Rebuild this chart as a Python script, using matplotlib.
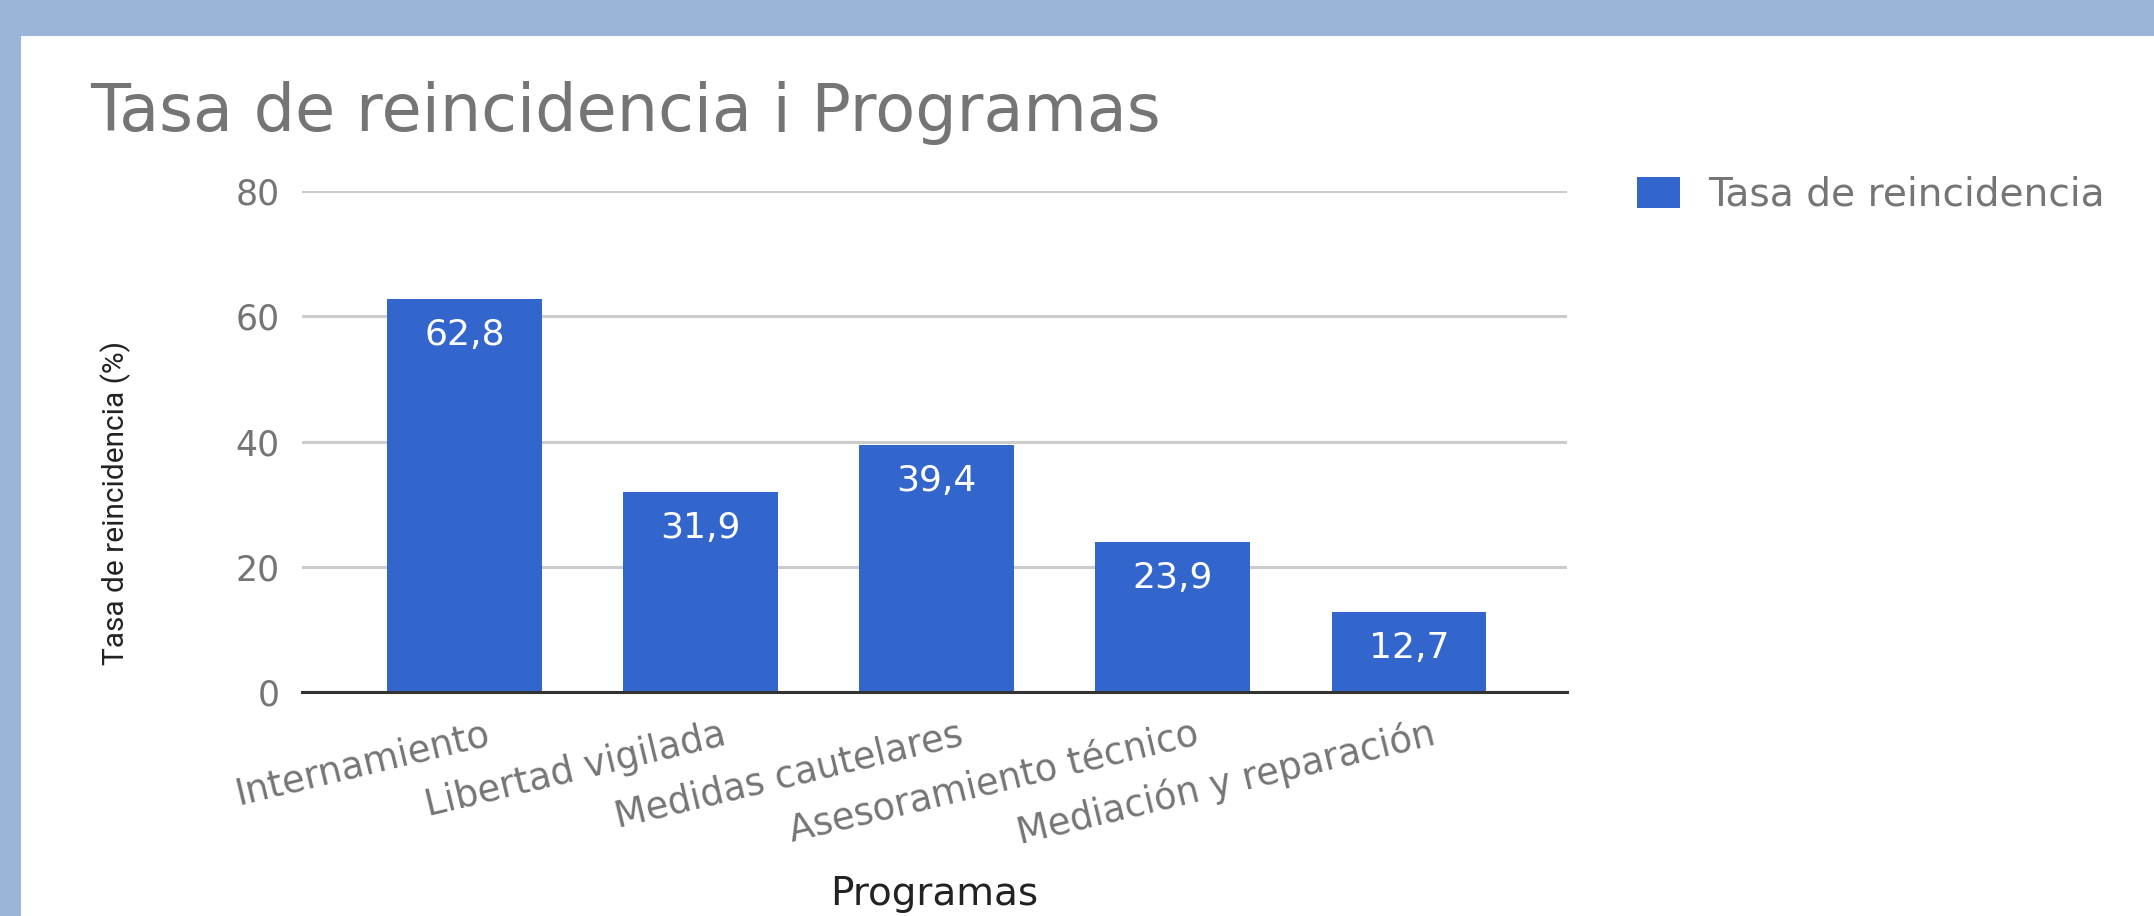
import matplotlib
matplotlib.use("Agg")
import matplotlib.pyplot as plt
from matplotlib.patches import Rectangle
from matplotlib.transforms import ScaledTranslation

# ---- data ----
categories = ["Internamiento", "Libertad vigilada", "Medidas cautelares",
              "Asesoramiento técnico", "Mediación y reparación"]
values = [62.8, 31.9, 39.4, 23.9, 12.7]
value_labels = ["62,8", "31,9", "39,4", "23,9", "12,7"]
yticks = [0, 20, 40, 60, 80]
title = "Tasa de reincidencia i Programas"
series_name = "Tasa de reincidencia"
xlabel = "Programas"
ylabel = "Tasa de reincidencia (%)"

W, H, DPI = 2154, 916, 100
plt.rcParams['font.family'] = ['DejaVu Sans']
fig = plt.figure(figsize=(W / DPI, H / DPI), dpi=DPI)
fig.patch.set_facecolor("white")

# light-blue frame (top and left)
frame_col = "#9BB5D9"
fig.patches.append(Rectangle((0, 1 - 36 / H), 1, 36 / H, transform=fig.transFigure,
                             facecolor=frame_col, edgecolor="none", zorder=0))
fig.patches.append(Rectangle((0, 0), 21 / W, 1, transform=fig.transFigure,
                             facecolor=frame_col, edgecolor="none", zorder=0))

ax_left, ax_right, ax_top, ax_bot = 302, 1567, 191, 692
ax = fig.add_axes([ax_left / W, 1 - ax_bot / H, (ax_right - ax_left) / W, (ax_bot - ax_top) / H])

bar_col = "#3366CC"
x = list(range(len(categories)))
bars = ax.bar(x, values, width=0.656, color=bar_col, zorder=3, label=series_name)
ax.set_xlim(-0.688, 4.669)
ax.set_ylim(0, 80)

# gridlines / baseline
ax.set_yticks(yticks)
ax.yaxis.grid(True, color="#CCCCCC", linewidth=2.2, zorder=0)
ax.set_axisbelow(True)
for s in ["top", "right", "left"]:
    ax.spines[s].set_visible(False)
ax.spines["bottom"].set_color("#333333")
ax.spines["bottom"].set_linewidth(2.2)
ax.spines["bottom"].set_zorder(4)

tick_col = "#757575"
ax.tick_params(axis="y", length=0, pad=16, labelsize=25, labelcolor=tick_col)
ax.set_yticklabels([str(v) for v in yticks])

ax.set_xticks(x)
ax.set_xticklabels(categories, rotation=13.5, ha="right", va="center",
                   rotation_mode="anchor", fontsize=26.5, color=tick_col)
ax.tick_params(axis="x", length=0, pad=30)
off = ScaledTranslation(25 / DPI, 0, fig.dpi_scale_trans)
for lab in ax.get_xticklabels():
    lab.set_transform(lab.get_transform() + off)

# value labels inside bars
for xi, v, lab in zip(x, values, value_labels):
    ax.annotate(lab, (xi, v), xytext=(0, -36 * 72 / DPI), textcoords="offset points",
                ha="center", va="center", color="white", fontsize=26, zorder=5)

# axis titles
ax.set_xlabel(xlabel, fontsize=28, color="#222222", va="baseline")
ax.xaxis.set_label_coords(0.5, (ax_bot - 905) / (ax_bot - ax_top))
ax.set_ylabel(ylabel, fontsize=21.5, color="#222222", va="center",
              family=["Liberation Sans Narrow", "Roboto", "DejaVu Sans"])
ax.yaxis.set_label_coords((116 - ax_left) / (ax_right - ax_left), (ax_bot - 503) / (ax_bot - ax_top))

# title
fig.text(90 / W, 1 - 131 / H, title, ha="left", va="baseline", fontsize=47, color="#757575")

# legend
leg_fs = 28.2
fs_px = leg_fs * DPI / 72
leg = ax.legend(loc="upper left", bbox_to_anchor=(1637 / W, 1 - 176 / H),
                bbox_transform=fig.transFigure, frameon=False, fontsize=leg_fs,
                handlelength=43 / fs_px, handleheight=34 / fs_px, handletextpad=28 / fs_px,
                borderpad=0, borderaxespad=0)
for t in leg.get_texts():
    t.set_color("#757575")

fig.savefig("out.png", dpi=DPI, facecolor="white")
